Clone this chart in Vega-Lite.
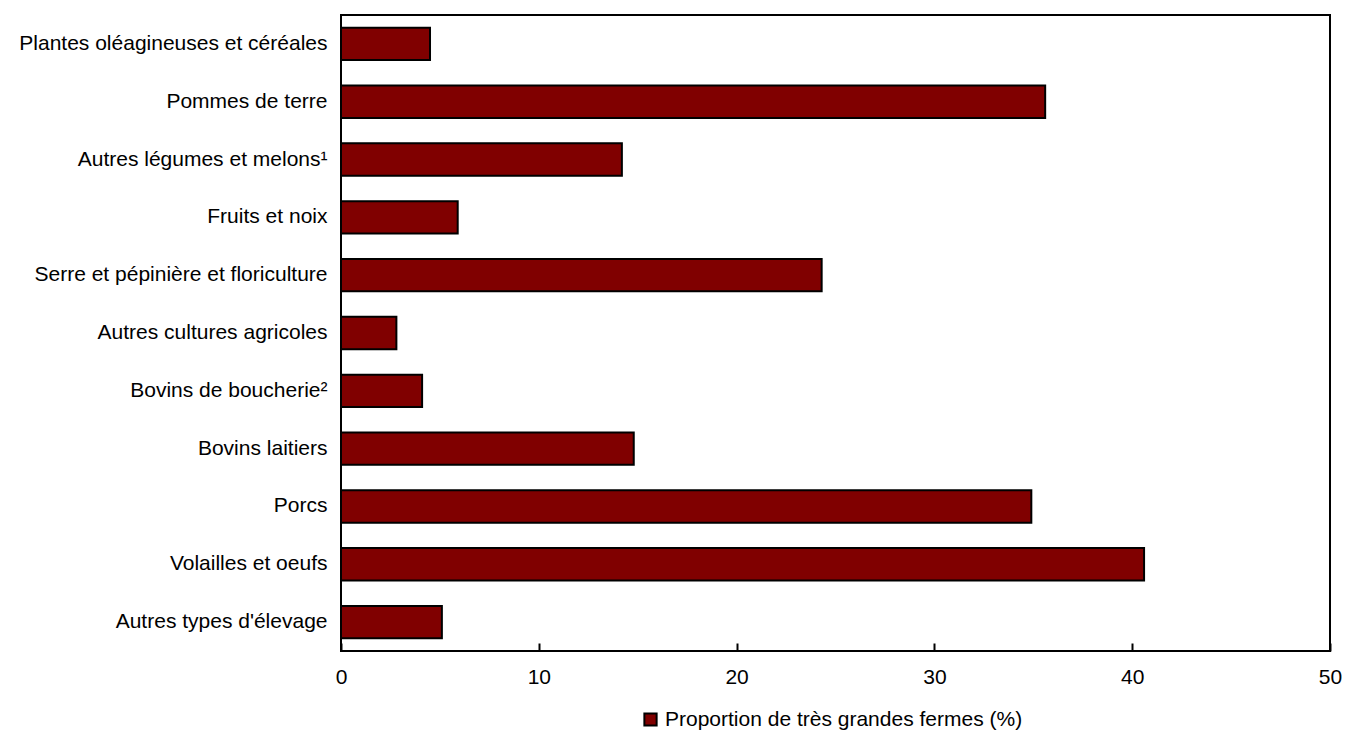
{
  "$schema": "https://vega.github.io/schema/vega-lite/v6.json",
  "autosize": "none",
  "width": 989,
  "height": 636,
  "padding": {"left": 341, "top": 15, "right": 16, "bottom": 80},
  "background": "white",
  "config": {
    "view": {"stroke": "black", "strokeWidth": 2},
    "font": "Liberation Sans"
  },
  "data": {"values": [
    {"type": "Plantes oléagineuses et céréales", "v": 4.5, "serie": "Proportion de très grandes fermes (%)"},
    {"type": "Pommes de terre", "v": 35.6, "serie": "Proportion de très grandes fermes (%)"},
    {"type": "Autres légumes et melons¹", "v": 14.2, "serie": "Proportion de très grandes fermes (%)"},
    {"type": "Fruits et noix", "v": 5.9, "serie": "Proportion de très grandes fermes (%)"},
    {"type": "Serre et pépinière et floriculture", "v": 24.3, "serie": "Proportion de très grandes fermes (%)"},
    {"type": "Autres cultures agricoles", "v": 2.8, "serie": "Proportion de très grandes fermes (%)"},
    {"type": "Bovins de boucherie²", "v": 4.1, "serie": "Proportion de très grandes fermes (%)"},
    {"type": "Bovins laitiers", "v": 14.8, "serie": "Proportion de très grandes fermes (%)"},
    {"type": "Porcs", "v": 34.9, "serie": "Proportion de très grandes fermes (%)"},
    {"type": "Volailles et oeufs", "v": 40.6, "serie": "Proportion de très grandes fermes (%)"},
    {"type": "Autres types d'élevage", "v": 5.1, "serie": "Proportion de très grandes fermes (%)"}
  ]},
  "mark": {"type": "bar", "stroke": "black", "strokeWidth": 2},
  "encoding": {
    "y": {
      "field": "type", "type": "nominal", "sort": null,
      "scale": {"paddingInner": 0.44, "paddingOuter": 0.22},
      "axis": {"title": null, "ticks": false, "domain": false, "labelFontSize": 21, "labelColor": "black", "labelPadding": 14, "labelLimit": 400}
    },
    "x": {
      "field": "v", "type": "quantitative",
      "scale": {"domain": [0, 50], "nice": false},
      "axis": {"title": null, "values": [0, 10, 20, 30, 40, 50], "grid": false, "domain": false, "labelFlush": false, "offset": -8, "tickColor": "black", "tickWidth": 2, "tickSize": 8, "labelFontSize": 21, "labelColor": "black", "labelPadding": 15}
    },
    "color": {
      "field": "serie", "type": "nominal",
      "scale": {"range": ["#800000"]},
      "legend": {"title": null, "orient": "none", "legendX": 299, "legendY": 694, "symbolType": "square", "symbolSize": 150, "symbolStrokeColor": "black", "symbolStrokeWidth": 2, "symbolOpacity": 1, "labelFontSize": 21, "labelColor": "black", "labelLimit": 600}
    }
  }
}
